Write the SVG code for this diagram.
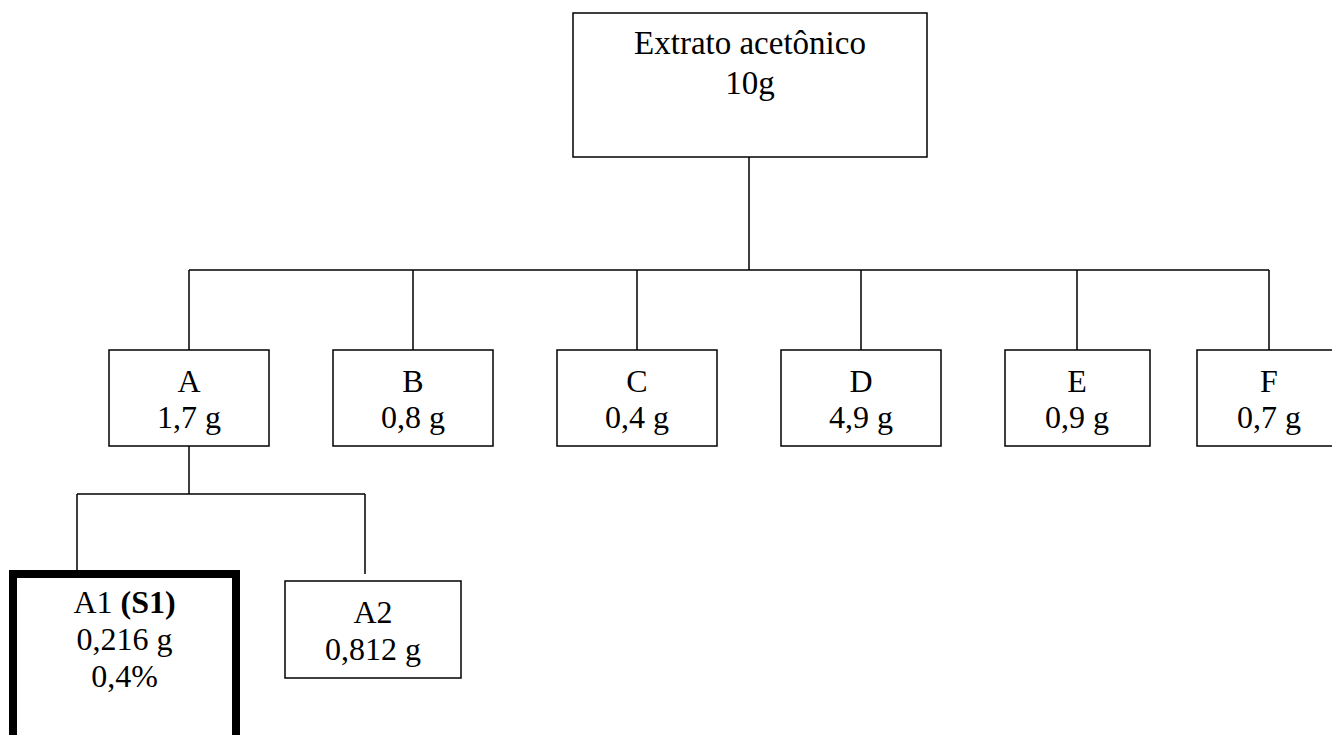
<svg xmlns="http://www.w3.org/2000/svg" width="1332" height="735" viewBox="0 0 1332 735">
<style>
.box{fill:#fff;stroke:#000;stroke-width:1.5}
.thick{fill:#fff;stroke:#000;stroke-width:8}
.ln{stroke:#000;stroke-width:1.5;fill:none}
text{font-family:"Liberation Serif","Times New Roman",serif;font-size:32px;fill:#000;text-anchor:middle}
.b{font-weight:bold}
</style>
<rect width="1332" height="735" fill="#fff"/>
<g id="connectors">
<path class="ln" d="M749 157V270M189 270H1269M189 270V350M413 270V350M637 270V350M861 270V350M1077 270V350M1269 270V350"/>
<path class="ln" d="M189 446V494M77 494H365M77 494V570M365 494V574"/>
</g>
<g id="root">
<rect class="box" x="573" y="13" width="354" height="144"/>
<text x="750" y="54" style="font-size:33px">Extrato acetônico</text>
<text x="750" y="94" style="font-size:33px">10g</text>
</g>
<g id="nodeA">
<rect class="box" x="109" y="350" width="160" height="96"/>
<text x="189" y="392">A</text>
<text x="189" y="428">1,7 g</text>
</g>
<g id="nodeB">
<rect class="box" x="333" y="350" width="160" height="96"/>
<text x="413" y="392">B</text>
<text x="413" y="428">0,8 g</text>
</g>
<g id="nodeC">
<rect class="box" x="557" y="350" width="160" height="96"/>
<text x="637" y="392">C</text>
<text x="637" y="428">0,4 g</text>
</g>
<g id="nodeD">
<rect class="box" x="781" y="350" width="160" height="96"/>
<text x="861" y="392">D</text>
<text x="861" y="428">4,9 g</text>
</g>
<g id="nodeE">
<rect class="box" x="1005" y="350" width="145" height="96"/>
<text x="1077" y="392">E</text>
<text x="1077" y="428">0,9 g</text>
</g>
<g id="nodeF">
<rect class="box" x="1197" y="350" width="145" height="96"/>
<text x="1269" y="392">F</text>
<text x="1269" y="428">0,7 g</text>
</g>
<g id="nodeA1">
<rect class="thick" x="13" y="574" width="223" height="180"/>
<text x="124.5" y="613">A1 <tspan class="b">(S1)</tspan></text>
<text x="124.5" y="650">0,216 g</text>
<text x="124.5" y="687">0,4%</text>
</g>
<g id="nodeA2">
<rect class="box" x="285" y="581" width="176" height="97"/>
<text x="373" y="623">A2</text>
<text x="373" y="660">0,812 g</text>
</g>
</svg>
